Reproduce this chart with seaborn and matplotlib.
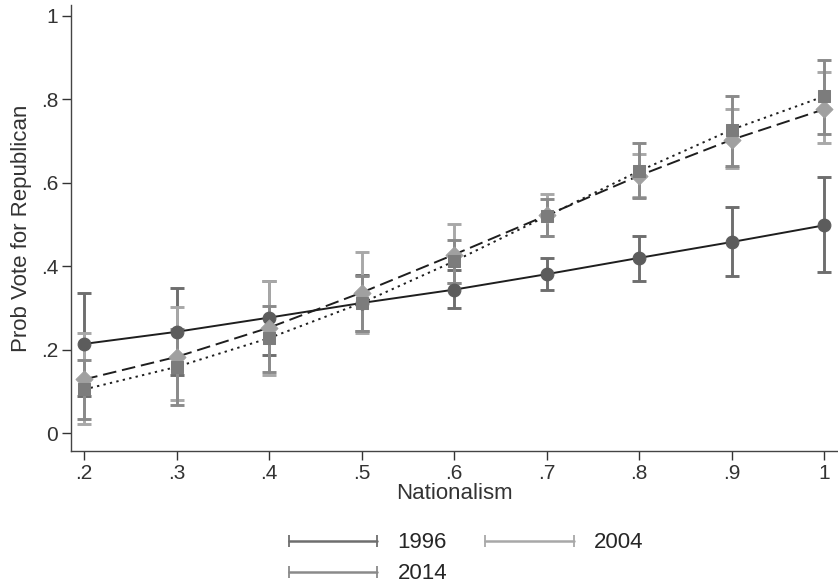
import matplotlib
matplotlib.use("Agg")
import matplotlib.pyplot as plt
from matplotlib.lines import Line2D
import numpy as np
import pandas as pd
import seaborn as sns

# nationalism levels
nationalism = [0.2, 0.3, 0.4, 0.5, 0.6, 0.7, 0.8, 0.9, 1.0]

# 1996
p1996 = [0.214, 0.243, 0.277, 0.312, 0.344, 0.381, 0.420, 0.458, 0.498]
lo1996 = [0.090, 0.140, 0.187, 0.245, 0.300, 0.343, 0.365, 0.376, 0.386]
hi1996 = [0.337, 0.349, 0.365, 0.378, 0.390, 0.420, 0.472, 0.542, 0.614]

# 2004
p2004 = [0.129, 0.183, 0.253, 0.337, 0.428, 0.522, 0.617, 0.703, 0.776]
lo2004 = [0.022, 0.079, 0.139, 0.241, 0.360, 0.473, 0.566, 0.635, 0.694]
hi2004 = [0.240, 0.303, 0.365, 0.433, 0.500, 0.572, 0.670, 0.776, 0.865]

# 2014
p2014 = [0.105, 0.159, 0.228, 0.312, 0.412, 0.520, 0.628, 0.727, 0.807]
lo2014 = [0.035, 0.067, 0.147, 0.245, 0.360, 0.473, 0.563, 0.640, 0.716]
hi2014 = [0.175, 0.250, 0.305, 0.376, 0.464, 0.560, 0.696, 0.808, 0.893]

years = ["1996", "2004", "2014"]

sns.set_theme(style="white")
plt.rcParams["font.family"] = ["Liberation Sans", "DejaVu Sans"]

rows = []
for yr, p, lo, hi in [("1996", p1996, lo1996, hi1996),
                      ("2004", p2004, lo2004, hi2004),
                      ("2014", p2014, lo2014, hi2014)]:
    for x, v, l, h in zip(nationalism, p, lo, hi):
        rows.append({"year": yr, "nat": x, "prob": v, "lo": l, "hi": h})
df = pd.DataFrame(rows)

bar_col = {"1996": "#6e6e6e", "2004": "#a8a8a8", "2014": "#8a8a8a"}
mk_col = {"1996": "#5c5c5c", "2004": "#a0a0a0", "2014": "#7c7c7c"}
markers = {"1996": "o", "2004": "D", "2014": "s"}
dashes = {"1996": "", "2004": (7, 3), "2014": (1.2, 2.2)}

fig = plt.figure(figsize=(8.38, 5.86), dpi=100)
ax = fig.add_axes([0.085, 0.23, 0.914, 0.761])

# confidence intervals
for yr in years:
    d = df[df["year"] == yr]
    ax.errorbar(d["nat"], d["prob"],
                yerr=[d["prob"] - d["lo"], d["hi"] - d["prob"]],
                fmt="none", ecolor=bar_col[yr], elinewidth=2.1,
                capsize=5, capthick=2.1, zorder=2)

sns.lineplot(data=df, x="nat", y="prob", style="year", dashes=dashes,
             color="#1e1e1e", linewidth=1.4, ax=ax, legend=False, zorder=3)

for yr in years:
    d = df[df["year"] == yr]
    sz = 85 if markers[yr] != "D" else 75
    sns.scatterplot(x=d["nat"], y=d["prob"], marker=markers[yr],
                    color=mk_col[yr], s=sz, edgecolor=mk_col[yr],
                    ax=ax, zorder=4, legend=False)

ax.set_xlim(0.186, 1.014)
ax.set_ylim(-0.043, 1.025)
ax.set_xticks(nationalism)
ax.set_xticklabels([".2", ".3", ".4", ".5", ".6", ".7", ".8", ".9", "1"])
ax.set_yticks([0, 0.2, 0.4, 0.6, 0.8, 1.0])
ax.set_yticklabels(["0", ".2", ".4", ".6", ".8", "1"])
ax.tick_params(axis="both", labelsize=15, colors="#333333", length=6.5,
               width=1, direction="out", left=True, bottom=True, pad=3)
for s in ["top", "right"]:
    ax.spines[s].set_visible(False)
for s in ["left", "bottom"]:
    ax.spines[s].set_color("#444444")
    ax.spines[s].set_linewidth(1)
ax.set_xlabel("Nationalism", fontsize=16, color="#333333", labelpad=0)
ax.set_ylabel("Prob Vote for Republican", fontsize=16, color="#333333", labelpad=6)

# column-major legend order so 1996 and 2004 share the first row
leg_order = ["1996", "2014", "2004"]
handles = [Line2D([0], [0], color=bar_col[yr], linewidth=1.8, marker="|",
                  markersize=8, markeredgewidth=1.3) for yr in leg_order]
fig.legend(handles, leg_order, loc="lower center", ncol=2, numpoints=2,
           frameon=False, fontsize=16, handlelength=4.6, handletextpad=0.6,
           columnspacing=1.4, labelspacing=0.45, borderaxespad=0.2,
           bbox_to_anchor=(0.552, -0.02))

fig.savefig("out.png", dpi=100)
